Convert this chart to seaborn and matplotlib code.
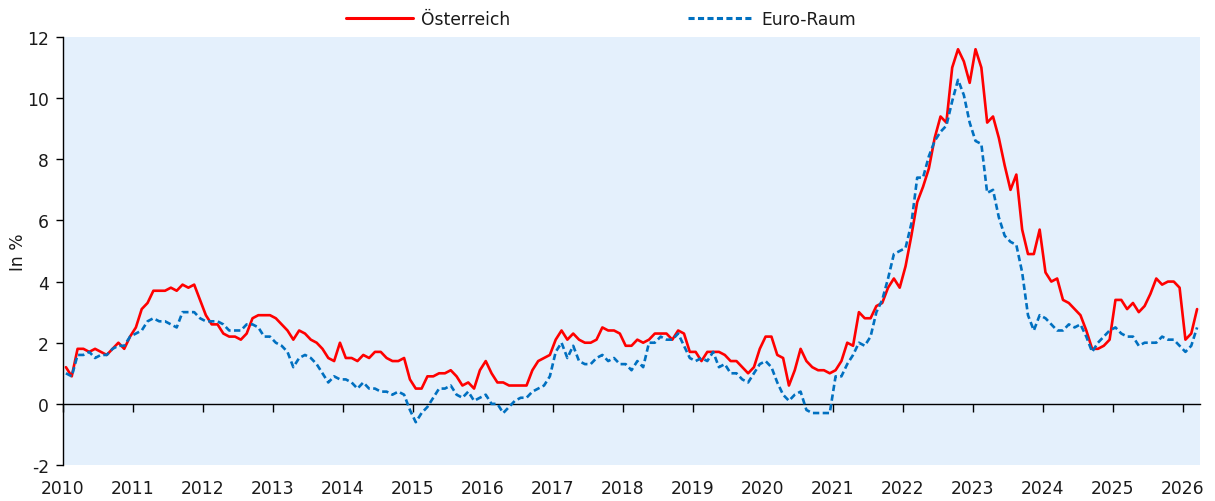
import numpy as np
import pandas as pd
import matplotlib
matplotlib.use("Agg")
import matplotlib.pyplot as plt
from matplotlib.lines import Line2D
import seaborn as sns

# HVPI-Inflation, Veränderung zum Vorjahresmonat in %, Jän 2010 - Mär 2026
oesterreich = [
    1.2, 0.9, 1.8, 1.8, 1.7, 1.8, 1.7, 1.6, 1.8, 2.0, 1.8, 2.2,      # 2010
    2.5, 3.1, 3.3, 3.7, 3.7, 3.7, 3.8, 3.7, 3.9, 3.8, 3.9, 3.4,      # 2011
    2.9, 2.6, 2.6, 2.3, 2.2, 2.2, 2.1, 2.3, 2.8, 2.9, 2.9, 2.9,      # 2012
    2.8, 2.6, 2.4, 2.1, 2.4, 2.3, 2.1, 2.0, 1.8, 1.5, 1.4, 2.0,      # 2013
    1.5, 1.5, 1.4, 1.6, 1.5, 1.7, 1.7, 1.5, 1.4, 1.4, 1.5, 0.8,      # 2014
    0.5, 0.5, 0.9, 0.9, 1.0, 1.0, 1.1, 0.9, 0.6, 0.7, 0.5, 1.1,      # 2015
    1.4, 1.0, 0.7, 0.7, 0.6, 0.6, 0.6, 0.6, 1.1, 1.4, 1.5, 1.6,      # 2016
    2.1, 2.4, 2.1, 2.3, 2.1, 2.0, 2.0, 2.1, 2.5, 2.4, 2.4, 2.3,      # 2017
    1.9, 1.9, 2.1, 2.0, 2.1, 2.3, 2.3, 2.3, 2.1, 2.4, 2.3, 1.7,      # 2018
    1.7, 1.4, 1.7, 1.7, 1.7, 1.6, 1.4, 1.4, 1.2, 1.0, 1.2, 1.8,      # 2019
    2.2, 2.2, 1.6, 1.5, 0.6, 1.1, 1.8, 1.4, 1.2, 1.1, 1.1, 1.0,      # 2020
    1.1, 1.4, 2.0, 1.9, 3.0, 2.8, 2.8, 3.2, 3.3, 3.8, 4.1, 3.8,      # 2021
    4.5, 5.5, 6.6, 7.1, 7.7, 8.7, 9.4, 9.2, 11.0, 11.6, 11.2, 10.5,  # 2022
    11.6, 11.0, 9.2, 9.4, 8.7, 7.8, 7.0, 7.5, 5.7, 4.9, 4.9, 5.7,    # 2023
    4.3, 4.0, 4.1, 3.4, 3.3, 3.1, 2.9, 2.4, 1.8, 1.8, 1.9, 2.1,      # 2024
    3.4, 3.4, 3.1, 3.3, 3.0, 3.2, 3.6, 4.1, 3.9, 4.0, 4.0, 3.8,      # 2025
    2.1, 2.3, 3.1,                                                   # 2026
]

euro_raum = [
    1.0, 0.9, 1.6, 1.6, 1.7, 1.5, 1.6, 1.6, 1.8, 1.9, 1.9, 2.2,      # 2010
    2.3, 2.4, 2.7, 2.8, 2.7, 2.7, 2.6, 2.5, 3.0, 3.0, 3.0, 2.8,      # 2011
    2.7, 2.7, 2.7, 2.6, 2.4, 2.4, 2.4, 2.6, 2.6, 2.5, 2.2, 2.2,      # 2012
    2.0, 1.9, 1.7, 1.2, 1.5, 1.6, 1.5, 1.3, 1.0, 0.7, 0.9, 0.8,      # 2013
    0.8, 0.7, 0.5, 0.7, 0.5, 0.5, 0.4, 0.4, 0.3, 0.4, 0.3, -0.2,     # 2014
    -0.6, -0.3, -0.1, 0.2, 0.5, 0.5, 0.6, 0.3, 0.2, 0.4, 0.1, 0.2,   # 2015
    0.3, 0.0, 0.0, -0.3, -0.1, 0.1, 0.2, 0.2, 0.4, 0.5, 0.6, 0.9,    # 2016
    1.7, 2.0, 1.5, 1.9, 1.4, 1.3, 1.3, 1.5, 1.6, 1.4, 1.5, 1.3,      # 2017
    1.3, 1.1, 1.4, 1.2, 2.0, 2.0, 2.2, 2.1, 2.1, 2.3, 1.9, 1.5,      # 2018
    1.4, 1.5, 1.4, 1.7, 1.2, 1.3, 1.0, 1.0, 0.8, 0.7, 1.0, 1.3,      # 2019
    1.4, 1.2, 0.7, 0.3, 0.1, 0.3, 0.4, -0.2, -0.3, -0.3, -0.3, -0.3, # 2020
    0.9, 0.9, 1.3, 1.6, 2.0, 1.9, 2.2, 3.0, 3.4, 4.1, 4.9, 5.0,      # 2021
    5.1, 5.9, 7.4, 7.4, 8.1, 8.6, 8.9, 9.1, 9.9, 10.6, 10.1, 9.2,    # 2022
    8.6, 8.5, 6.9, 7.0, 6.1, 5.5, 5.3, 5.2, 4.3, 2.9, 2.4, 2.9,      # 2023
    2.8, 2.6, 2.4, 2.4, 2.6, 2.5, 2.6, 2.2, 1.7, 2.0, 2.2, 2.4,      # 2024
    2.5, 2.3, 2.2, 2.2, 1.9, 2.0, 2.0, 2.0, 2.2, 2.1, 2.1, 1.9,      # 2025
    1.7, 1.9, 2.5,                                                   # 2026
]

jahre = list(range(2010, 2027))
y_ticks = list(range(-2, 13, 2))

monate = pd.date_range("2010-01-01", periods=len(oesterreich), freq="MS")
# Monatswerte in der Mitte des jeweiligen Monats
pos = monate.year + (monate.month - 0.5) / 12

df = pd.DataFrame({
    "pos": np.concatenate([pos, pos]),
    "wert": oesterreich + euro_raum,
    "reihe": ["Österreich"] * len(pos) + ["Euro-Raum"] * len(pos),
})

farben = {"Österreich": "#FF0000", "Euro-Raum": "#0070C0"}
striche = {"Österreich": "", "Euro-Raum": (2.4, 1.3)}

sns.set_theme(style="white")
plt.rcParams["font.family"] = ["DejaVu Sans"]
fs = 12.3

fig = plt.figure(figsize=(12.15, 5.02), dpi=100)
ax = fig.add_axes([63 / 1215, 36 / 502, 1137 / 1215, 428 / 502])
ax.set_facecolor("#E4F0FC")

sns.lineplot(data=df, x="pos", y="wert", hue="reihe", style="reihe",
             palette=farben, dashes=striche, linewidth=1.9,
             legend=False, ax=ax, zorder=3)

ax.set_xlim(2010, 2010 + len(oesterreich) / 12)
ax.set_ylim(-2, 12)
ax.set_yticks(y_ticks)
ax.set_yticklabels([str(t) for t in y_ticks])
ax.set_xticks(jahre)
ax.set_xticklabels([str(j) for j in jahre])

for s in ["top", "right", "bottom"]:
    ax.spines[s].set_visible(False)
ax.spines["left"].set_color("black")
ax.spines["left"].set_linewidth(1.0)

ax.tick_params(axis="y", direction="out", length=5, width=1, color="black",
               labelsize=fs, labelcolor="#1a1a1a", pad=5, left=True)
ax.tick_params(axis="x", length=0, labelsize=fs, labelcolor="#1a1a1a", pad=10)

# Nulllinie mit Jahres-Teilstrichen
null = ax.secondary_xaxis(2 / 14)
null.set_xticks(jahre)
null.tick_params(axis="x", direction="out", length=6, width=1, color="black",
                 labelbottom=False, labeltop=False)
null.spines["bottom"].set_color("black")
null.spines["bottom"].set_linewidth(1.0)

ax.set_xlabel("")
ax.set_ylabel("In %", fontsize=fs, color="#1a1a1a", labelpad=0)

handles = [
    Line2D([], [], color=farben["Österreich"], linewidth=2.2),
    Line2D([], [], color=farben["Euro-Raum"], linewidth=2.2, dashes=(2.0, 1.1)),
]
fig.legend(handles, ["Österreich", "Euro-Raum"], loc="center",
           bbox_to_anchor=(0.495, 0.96), ncol=2, frameon=False,
           fontsize=fs, handlelength=3.9, handletextpad=0.45,
           columnspacing=10.4, labelcolor="#1a1a1a")

fig.savefig("out.png", dpi=100, facecolor="white")
